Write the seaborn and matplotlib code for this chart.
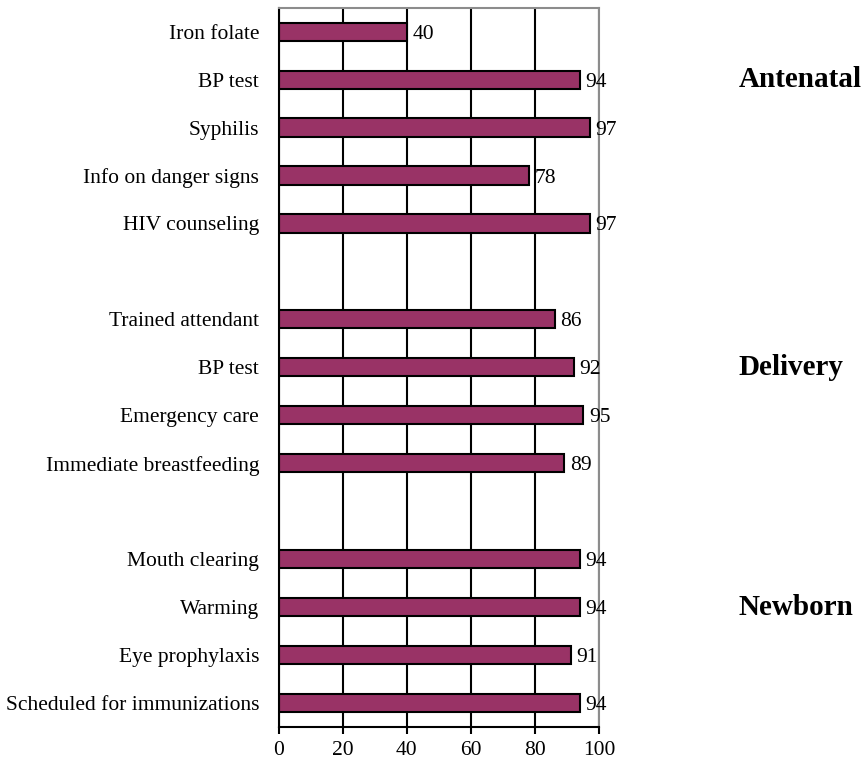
import pandas as pd
import seaborn as sns
import matplotlib.pyplot as plt

# Data (percent)
antenatal_items = ['Iron folate', 'BP test', 'Syphilis', 'Info on danger signs', 'HIV counseling']
antenatal_vals = [40, 94, 97, 78, 97]
delivery_items = ['Trained attendant', 'BP test', 'Emergency care', 'Immediate breastfeeding']
delivery_vals = [86, 92, 95, 89]
newborn_items = ['Mouth clearing', 'Warming', 'Eye prophylaxis', 'Scheduled for immunizations']
newborn_vals = [94, 94, 91, 94]
groups = ['Antenatal', 'Delivery', 'Newborn']

rows = []
for g, items, vals in zip(groups, [antenatal_items, delivery_items, newborn_items],
                          [antenatal_vals, delivery_vals, newborn_vals]):
    for it, v in zip(items, vals):
        rows.append({'key': g + '|' + it, 'item': it, 'group': g, 'value': v})
df = pd.DataFrame(rows)

# slot order with blank rows between groups
order = []
labels = []
for i, g in enumerate(groups):
    sub = df[df['group'] == g]
    order += list(sub['key'])
    labels += list(sub['item'])
    if i < len(groups) - 1:
        order.append('gap' + str(i))
        labels.append('')

sns.set_style('white')
plt.rcParams['font.family'] = ['Liberation Serif', 'DejaVu Serif']
plt.rcParams['text.color'] = 'black'
plt.rcParams['xtick.color'] = 'black'
plt.rcParams['ytick.color'] = 'black'

fig, ax = plt.subplots(figsize=(8.65, 7.7), dpi=100)
fig.subplots_adjust(left=0.322, right=0.693, top=0.99, bottom=0.056)

ax.set_axisbelow(True)
ax.grid(axis='x', color='black', linewidth=1.5)
sns.barplot(data=df, x='value', y='key', order=order, orient='h', color='#993366',
            saturation=1, width=0.38, edgecolor='black', linewidth=1.5, ax=ax)

for c in ax.containers:
    labs = ax.bar_label(c, fmt='%d', padding=4, fontsize=15.5)
    for t in labs:
        t.set_va('center_baseline')

ax.set_xlim(0, 100)
ax.set_xticks([0, 20, 40, 60, 80, 100])
ax.set_yticks(range(len(order)))
ax.set_yticklabels(labels, fontsize=15.5)
ax.tick_params(axis='x', labelsize=15.5, length=5, width=1.5, pad=5, direction='out', bottom=True)
ax.tick_params(axis='y', length=0, pad=14)
ax.set_xlabel('')
ax.set_ylabel('')

for s in ['left', 'bottom']:
    ax.spines[s].set_color('black')
    ax.spines[s].set_linewidth(1.5)
for s in ['top', 'right']:
    ax.spines[s].set_color('#8c8c8c')
    ax.spines[s].set_linewidth(1.5)

# group labels to the right of the plot
for g in groups:
    keys = [k for k in order if k.startswith(g + '|')]
    mid = order.index(keys[1])
    ax.text(1.433, mid, g, transform=ax.get_yaxis_transform(), fontsize=21,
            fontweight='bold', ha='left', va='center')

plt.savefig('out.png', dpi=100)
